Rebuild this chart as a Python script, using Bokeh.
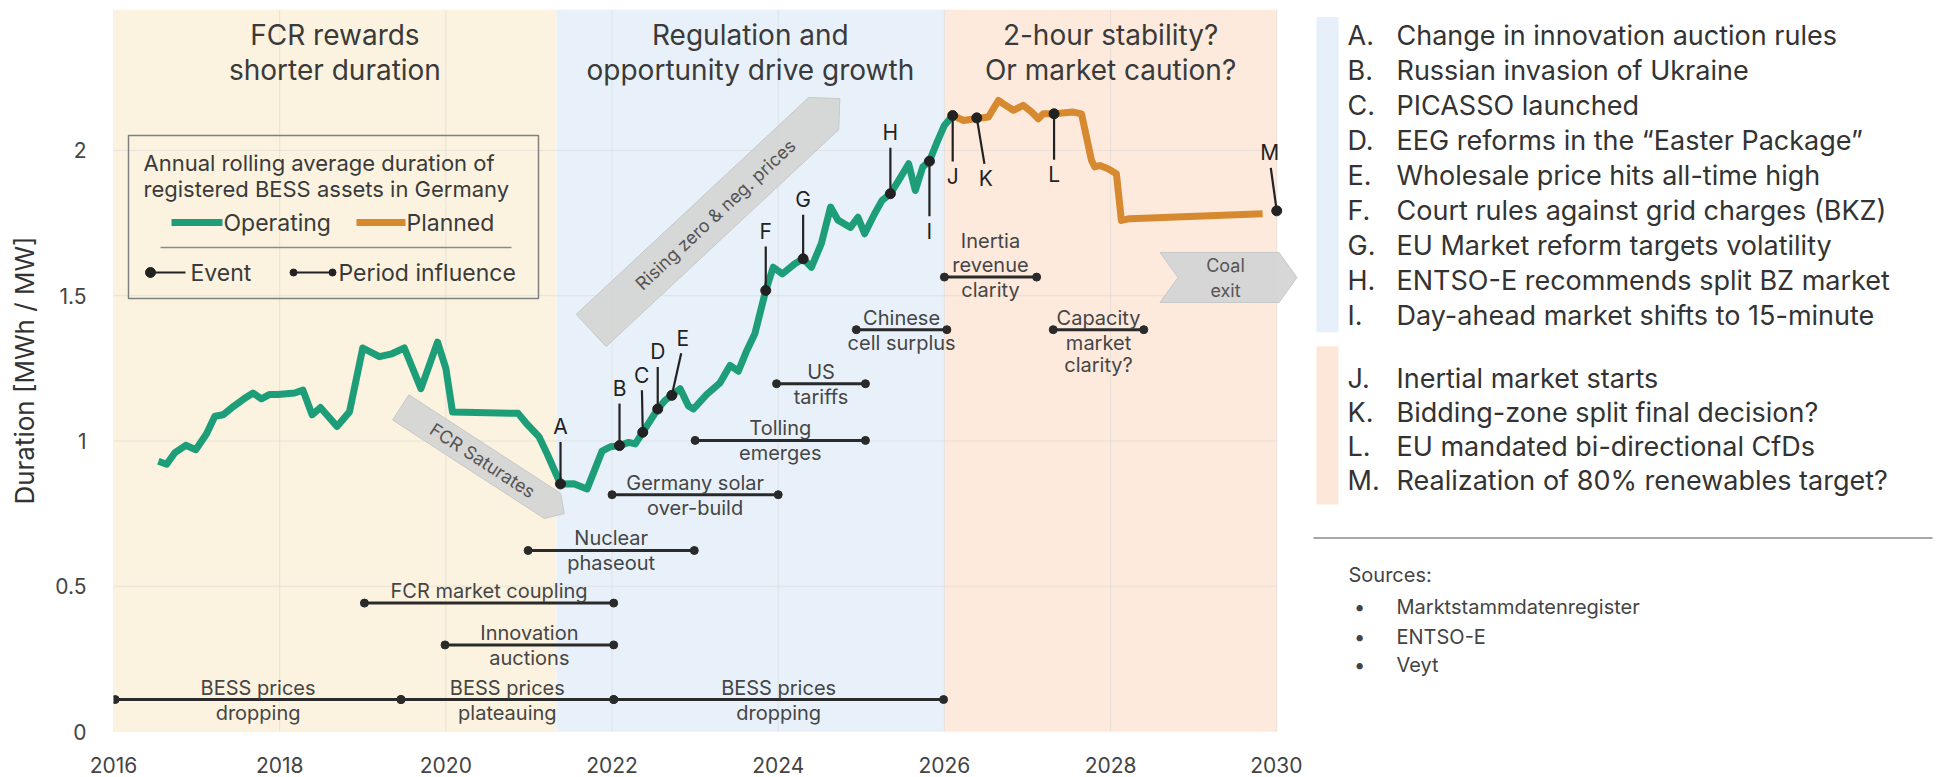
import numpy as np
from bokeh.plotting import figure
from bokeh.models import Range1d, FixedTicker
from bokeh.layouts import row
from bokeh.embed import file_html
from bokeh.resources import INLINE
from bokeh.core.properties import value

FONT = "Inter"

# ---------------- data ----------------
era_starts = [2016.0, 2021.33, 2026.0]
era_ends = [2021.33, 2026.0, 2030.0]
era_titles = [["FCR rewards", "shorter duration"],
              ["Regulation and", "opportunity drive growth"],
              ["2-hour stability?", "Or market caution?"]]

op_years = [2016.54, 2016.64, 2016.74, 2016.87, 2016.99, 2017.12, 2017.22, 2017.32, 2017.45,
            2017.57, 2017.68, 2017.78, 2017.88, 2017.98, 2018.18, 2018.28, 2018.39, 2018.49,
            2018.69, 2018.84, 2019.0, 2019.2, 2019.35, 2019.5, 2019.7, 2019.9, 2020.0,
            2020.08, 2020.87, 2020.97, 2021.12, 2021.22, 2021.38, 2021.54, 2021.70, 2021.88,
            2021.98, 2022.09, 2022.20, 2022.28, 2022.37, 2022.46, 2022.55, 2022.64, 2022.72,
            2022.82, 2022.92, 2022.98, 2023.14, 2023.30, 2023.42, 2023.52, 2023.62, 2023.72,
            2023.85, 2023.94, 2024.05, 2024.20, 2024.30, 2024.40, 2024.52, 2024.63, 2024.72,
            2024.87, 2024.96, 2025.04, 2025.16, 2025.25, 2025.35, 2025.45, 2025.57, 2025.65,
            2025.74, 2025.82, 2025.92, 2026.00, 2026.10]
op_vals = [0.93, 0.92, 0.96, 0.985, 0.97, 1.025, 1.085, 1.09, 1.12,
           1.145, 1.165, 1.145, 1.16, 1.16, 1.165, 1.175, 1.09, 1.115,
           1.05, 1.10, 1.32, 1.29, 1.30, 1.32, 1.18, 1.34, 1.25,
           1.10, 1.095, 1.06, 1.015, 0.955, 0.852, 0.853, 0.835, 0.965,
           0.98, 0.984, 0.995, 0.99, 1.03, 1.07, 1.11, 1.14, 1.157,
           1.18, 1.12, 1.11, 1.16, 1.20, 1.26, 1.24, 1.31, 1.37,
           1.518, 1.598, 1.575, 1.61, 1.627, 1.598, 1.68, 1.805, 1.76,
           1.735, 1.77, 1.713, 1.782, 1.828, 1.851, 1.897, 1.954, 1.862,
           1.943, 1.963, 2.034, 2.086, 2.12]

pl_years = [2026.10, 2026.23, 2026.39, 2026.53, 2026.65, 2026.71, 2026.83, 2026.95, 2027.05,
            2027.13, 2027.19, 2027.32, 2027.55, 2027.65, 2027.77, 2027.81, 2027.87, 2027.97,
            2028.07, 2028.13, 2028.23, 2029.83]
pl_vals = [2.12, 2.103, 2.11, 2.115, 2.172, 2.16, 2.138, 2.155, 2.132,
           2.109, 2.126, 2.126, 2.132, 2.126, 1.966, 1.943, 1.948, 1.937,
           1.92, 1.759, 1.765, 1.782]

event_letters = ["A", "B", "C", "D", "E", "F", "G", "H", "I", "J", "K", "L", "M"]
event_years = [2021.38, 2022.09, 2022.37, 2022.55, 2022.72, 2023.85, 2024.30, 2025.35,
               2025.82, 2026.10, 2026.39, 2027.32, 2030.0]
event_vals = [0.852, 0.984, 1.03, 1.11, 1.157, 1.518, 1.627, 1.851,
              1.963, 2.12, 2.112, 2.126, 1.792]
event_notes = ["Change in innovation auction rules",
               "Russian invasion of Ukraine",
               "PICASSO launched",
               "EEG reforms in the \u201cEaster Package\u201d",
               "Wholesale price hits all-time high",
               "Court rules against grid charges (BKZ)",
               "EU Market reform targets volatility",
               "ENTSO-E recommends split BZ market",
               "Day-ahead market shifts to 15-minute",
               "Inertial market starts",
               "Bidding-zone split final decision?",
               "EU mandated bi-directional CfDs",
               "Realization of 80% renewables target?"]

period_start = [2016.02, 2019.46, 2022.02, 2019.02, 2019.99, 2020.99, 2022.0, 2023.0,
                2023.98, 2024.94, 2026.0, 2027.31]
period_end = [2019.46, 2022.02, 2025.99, 2022.02, 2022.02, 2022.99, 2024.0, 2025.05,
              2025.05, 2026.03, 2027.11, 2028.4]
period_level = [0.110, 0.110, 0.110, 0.442, 0.298, 0.623, 0.815, 1.002,
                1.197, 1.383, 1.564, 1.383]
period_above = [["BESS prices"], ["BESS prices"], ["BESS prices"], ["FCR market coupling"],
                ["Innovation"], ["Nuclear"], ["Germany solar"], ["Tolling"], ["US"],
                ["Chinese"], ["Inertia", "revenue"], ["Capacity"]]
period_below = [["dropping"], ["plateauing"], ["dropping"], [], ["auctions"], ["phaseout"],
                ["over-build"], ["emerges"], ["tariffs"], ["cell surplus"], ["clarity"],
                ["market", "clarity?"]]

xtick_vals = [2016, 2018, 2020, 2022, 2024, 2026, 2028, 2030]
ytick_vals = [0, 0.5, 1, 1.5, 2]
ytick_labels = ["0", "0.5", "1", "1.5", "2"]

sources = ["Marktstammdatenregister", "ENTSO-E", "Veyt"]

# ---------------- styles / layout ----------------
ERA_COLORS = ["#FBF3DF", "#E8F1FA", "#FDEADD"]
GREEN = "#1E9E78"
ORANGE = "#D6892F"
DARK = "#222222"
TXT = "#3a3a3a"

W1, W2, H = 1302, 643, 776
BL, BT, BB = 113, 9, 45
X0, X1, Y0, Y1 = 2016.0, 2030.31, 0.0, 2.485
FW, FH = W1 - BL, H - BT - BB
KX, KY = FW / (X1 - X0), FH / (Y1 - Y0)
PX0, PY0 = BL, BT        # page position of frame top-left


def dx(xp):   # page x -> data x
    return X0 + (xp - PX0) / KX


def dy(yp):   # page y -> data y
    return Y1 - (yp - PY0) / KY


def px(x):    # data x -> page x
    return PX0 + (x - X0) * KX


def py(y):    # data y -> page y
    return PY0 + (Y1 - y) * KY


p = figure(width=W1, height=H, x_range=Range1d(X0, X1), y_range=Range1d(Y0, Y1),
           output_backend="svg", toolbar_location=None,
           min_border_left=BL, min_border_right=0, min_border_top=BT, min_border_bottom=BB)
p.outline_line_color = None
p.background_fill_color = "white"
p.border_fill_color = "white"
p.xgrid.visible = False
p.ygrid.visible = False

for ax in (p.xaxis[0], p.yaxis[0]):
    ax.axis_line_color = None
    ax.major_tick_line_color = None
    ax.minor_tick_line_color = None
    ax.major_label_text_font = FONT
    ax.major_label_text_font_size = "21px"
    ax.major_label_text_color = "#444444"
p.xaxis.ticker = FixedTicker(ticks=xtick_vals)
p.xaxis.major_label_standoff = 19
p.yaxis.ticker = FixedTicker(ticks=ytick_vals)
p.yaxis.major_label_overrides = {float(v): t for v, t in zip(ytick_vals, ytick_labels)}
p.yaxis.major_label_standoff = 21
p.yaxis.axis_label = "Duration [MWh / MW]"
p.yaxis.axis_label_text_font = FONT
p.yaxis.axis_label_text_font_size = "26px"
p.yaxis.axis_label_text_font_style = "normal"
p.yaxis.axis_label_text_color = "#333333"
p.yaxis.axis_label_standoff = 12

# era backgrounds
p.quad(left=era_starts, right=era_ends, bottom=Y0, top=Y1, fill_color=ERA_COLORS,
       line_color=None)

# grid lines (drawn over the backgrounds)
p.segment(x0=xtick_vals, x1=xtick_vals, y0=Y0, y1=Y1, line_color="#d0d0d0",
          line_alpha=0.45, line_width=1)
p.segment(x0=X0, x1=2030.0, y0=ytick_vals, y1=ytick_vals, line_color="#d0d0d0",
          line_alpha=0.45, line_width=1)

# era titles
for s, e, lines in zip(era_starts, era_ends, era_titles):
    cx = (s + e) / 2
    p.text(x=[cx, cx], y=[dy(34), dy(69)], text=lines, text_font=value(FONT),
           text_font_size="28px", text_color=TXT, text_align="center",
           text_baseline="middle")


# gray arrows
def band(cxp, cyp, ang, length, thick, tip=0.0, notch=0.0):
    L, T = length / 2, thick / 2
    pts = [(-L, -T), (L - tip, -T), (L, 0), (L - tip, T), (-L, T), (-L + notch, 0)]
    a = np.radians(ang)
    xs, ys = [], []
    for u, v in pts:
        ddx = u * np.cos(a) - v * np.sin(a)
        ddy = u * np.sin(a) + v * np.cos(a)
        xs.append(dx(cxp + ddx))
        ys.append(dy(cyp - ddy))
    return xs, ys


arrow_specs = [
    (482, 460, -33, 195, 30, 14, 0, ["FCR Saturates"]),
    (715, 214, 43, 340, 44, 22, 0, ["Rising zero & neg. prices"]),
    (1228, 277, 0, 137, 50, 18, 18, ["Coal", "exit"]),
]
for cxp, cyp, ang, ln, th, tip, notch, lines in arrow_specs:
    xs, ys = band(cxp, cyp, ang, ln, th, tip, notch)
    p.patch(xs, ys, fill_color="#D5D5D5", fill_alpha=0.95, line_color="#C8C8C8",
            line_width=1)
    n = len(lines)
    offs = [(i - (n - 1) / 2) * 25 for i in range(n)]
    p.text(x=[dx(cxp - 3 * (n > 1)) for o in offs], y=[dy(cyp + o) for o in offs],
           text=lines, angle=np.radians(ang), text_font=value(FONT), text_font_size="18px",
           text_color="#555555", text_align="center", text_baseline="middle")

# period influence bars
p.segment(x0=period_start, x1=period_end, y0=period_level, y1=period_level,
          line_color="#2a2a2a", line_width=3)
p.scatter(x=period_start + period_end, y=period_level + period_level, size=8,
          color="#2a2a2a")
for s, e, lv, ab, be in zip(period_start, period_end, period_level, period_above,
                            period_below):
    cx = (s + e) / 2
    yb = py(lv)
    ya = [yb - 12 - 24 * (len(ab) - 1 - i) for i in range(len(ab))]
    yl = [yb + 13 + 22 * i for i in range(len(be))]
    p.text(x=[cx] * (len(ab) + len(be)), y=[dy(v) for v in ya + yl], text=ab + be,
           text_font=value(FONT), text_font_size="20px", text_color="#454545",
           text_align="center", text_baseline="middle")

# duration lines
p.line(op_years, op_vals, line_color=GREEN, line_width=7, line_join="round")
p.line(pl_years, pl_vals, line_color=ORANGE, line_width=7, line_join="round")

# events
event_dir = [1, 1, 1, 1, 1, 1, 1, 1, -1, -1, -1, -1, 1]
event_lean = [0, 0, -1, 0, 11, 0, 0, 0, 0, 0, 9, 0, -7]
event_stem = [42, 42, 42, 42, 42, 44, 44, 46, 55, 46, 46, 46, 43]
sx1, sy1, lx, ly = [], [], [], []
for x, y, d, le, st in zip(event_years, event_vals, event_dir, event_lean, event_stem):
    xp, yp = px(x), py(y)
    sx1.append(dx(xp + le * 0.85))
    sy1.append(dy(yp - d * st))
    lx.append(dx(xp + le))
    ly.append(dy(yp - d * (st + 15)))
p.segment(x0=event_years, y0=event_vals, x1=sx1, y1=sy1, line_color=DARK, line_width=2.2)
p.scatter(x=event_years, y=event_vals, size=10, color=DARK)
p.text(x=lx, y=ly, text=event_letters, text_font=value(FONT), text_font_size="21px",
       text_color=DARK, text_align="center", text_baseline="middle")

# legend box
p.quad(left=dx(128), right=dx(538), bottom=dy(298), top=dy(135), fill_alpha=0,
       line_color="#808080", line_width=1.5)
p.text(x=[dx(143), dx(143)], y=[dy(162), dy(188)],
       text=["Annual rolling average duration of", "registered BESS assets in Germany"],
       text_font=value(FONT), text_font_size="22px", text_color=TXT,
       text_baseline="middle")
p.line([dx(171), dx(222)], [dy(222)] * 2, line_color=GREEN, line_width=7)
p.line([dx(356), dx(405)], [dy(222)] * 2, line_color=ORANGE, line_width=7)
p.text(x=[dx(223), dx(406)], y=[dy(222)] * 2, text=["Operating", "Planned"],
       text_font=value(FONT), text_font_size="23px", text_color=TXT, text_baseline="middle")
p.line([dx(160), dx(511)], [dy(247)] * 2, line_color="#8a8a8a", line_width=1.5)
p.line([dx(150), dx(185)], [dy(272)] * 2, line_color=DARK, line_width=2.2)
p.scatter([dx(150)], [dy(272)], size=10, color=DARK)
p.line([dx(293), dx(332)], [dy(272)] * 2, line_color=DARK, line_width=2.2)
p.scatter([dx(293), dx(332)], [dy(272)] * 2, size=7, color=DARK)
p.text(x=[dx(190), dx(338)], y=[dy(272)] * 2, text=["Event", "Period influence"],
       text_font=value(FONT), text_font_size="23px", text_color=TXT, text_baseline="middle")

# ---------------- side panel ----------------
q = figure(width=W2, height=H, x_range=Range1d(0, W2), y_range=Range1d(H, 0),
           x_axis_type=None, y_axis_type=None, output_backend="svg",
           toolbar_location=None, min_border=0)
q.outline_line_color = None
q.background_fill_color = "white"
q.border_fill_color = "white"
QX, QY = W1, 0


def sx(xp):
    return xp - QX


def sy(yp):
    return yp - QY


q.quad(left=[sx(1316), sx(1316)], right=[sx(1338), sx(1338)],
       top=[sy(8), sy(362)], bottom=[sy(347), sy(532)],
       fill_color=["#E6EFFA", "#FDE7D8"], line_color=None)

ys_list = [28 + 37.6 * i for i in range(9)] + [397 + 36.5 * i for i in range(4)]
q.text(x=[sx(1347)] * 13, y=[sy(v) for v in ys_list], text=[l + "." for l in event_letters],
       text_font=value(FONT), text_font_size="27px", text_color="#333333",
       text_baseline="middle")
q.text(x=[sx(1396)] * 13, y=[sy(v) for v in ys_list], text=event_notes,
       text_font=value(FONT), text_font_size="27px", text_color="#333333",
       text_baseline="middle")
q.line([sx(1313), sx(1932)], [sy(568)] * 2, line_color="#8a8a8a", line_width=1.5)
q.text(x=[sx(1348)], y=[sy(608)], text=["Sources:"], text_font=value(FONT),
       text_font_size="20px", text_color="#444444", text_baseline="middle")
src_y = [642, 674, 705]
q.text(x=[sx(1359)] * 3, y=[sy(v) for v in src_y], text=["\u2022"] * 3,
       text_font=value(FONT), text_font_size="20px", text_color="#444444",
       text_align="center", text_baseline="middle")
q.text(x=[sx(1396)] * 3, y=[sy(v) for v in src_y], text=sources, text_font=value(FONT),
       text_font_size="20px", text_color="#444444", text_baseline="middle")

layout = row(p, q)
open("out.html", "w").write(file_html(layout, INLINE))
